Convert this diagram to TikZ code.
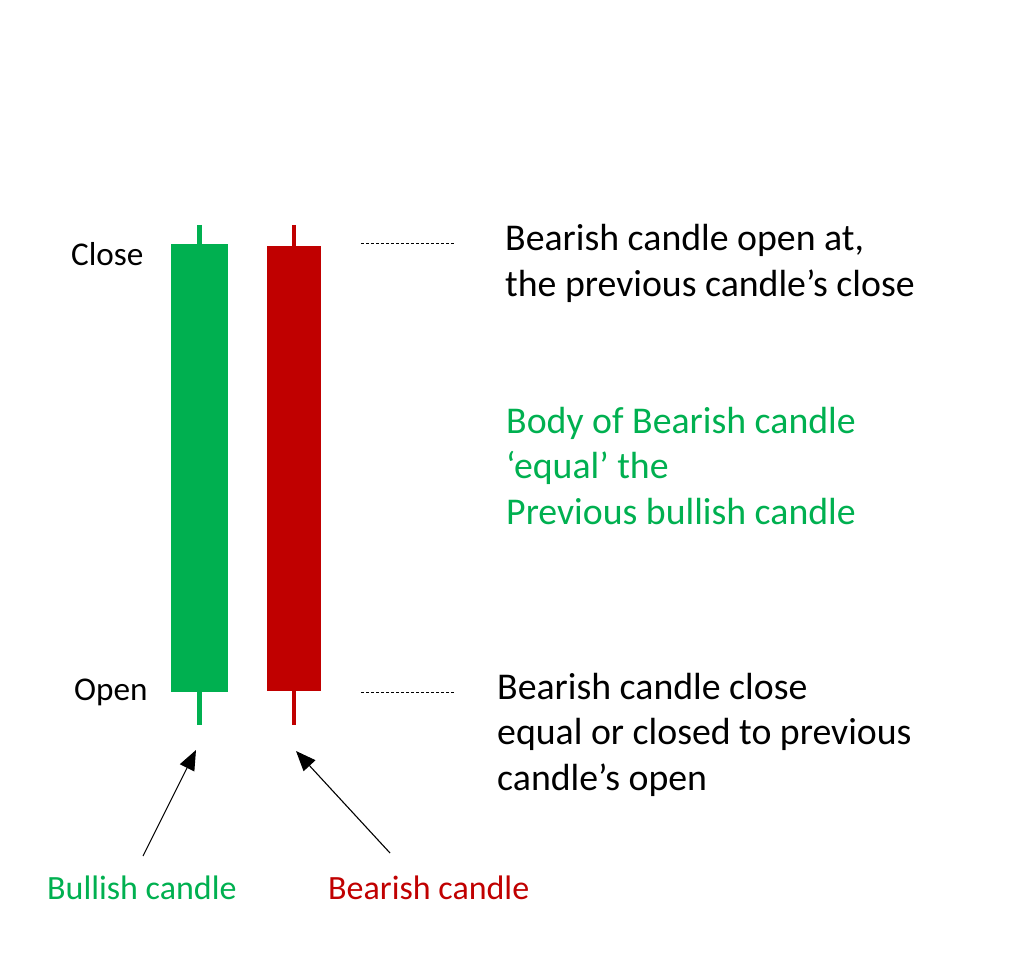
\documentclass[tikz,border=0pt]{standalone}
\usepackage{fontspec}
\setmainfont{Carlito}
\usetikzlibrary{arrows.meta}
\definecolor{bullgreen}{RGB}{0,176,80}
\definecolor{bearred}{RGB}{192,0,0}
\tikzset{
    candlebody/.style={fill=#1, draw=none, inner sep=0pt},
    wick/.style={draw=#1, line width=4.5pt},
    textline/.style={inner sep=0pt, anchor=base west, align=left},
    levellabel/.style={textline, font=\fontsize{33.2}{40}\selectfont},
    notetext/.style={textline, font=\fontsize{37.8}{45.5}\selectfont},
    candlename/.style={textline, font=\fontsize{34}{40}\selectfont},
    level/.style={draw=black, line width=0.9pt, dash pattern=on 3pt off 2pt},
    pointer/.style={draw=black, line width=1.1pt, -{Triangle[length=20pt,width=16pt]}}
}
\begin{document}
\begin{tikzpicture}[x=1pt, y=-1pt]
    \useasboundingbox (0,0) rectangle (1024,965);
    % candles
    \draw [wick=bullgreen] (199.5,225) -- (199.5,725);
    \draw [wick=bearred] (294,225) -- (294,725);
    \node (bullbody) [candlebody=bullgreen, minimum width=57pt, minimum height=448pt] at (199.5,468) {};
    \node (bearbody) [candlebody=bearred, minimum width=54pt, minimum height=445pt] at (294,468.5) {};
    % levels
    \node (close) [levellabel] at (71,266) {Close};
    \node (open) [levellabel] at (74,700) {Open};
    \coordinate (closeL) at (361,243);
    \coordinate (closeR) at (455,243);
    \coordinate (openL) at (361,692);
    \coordinate (openR) at (455,692);
    \draw [level] (closeL) -- (closeR);
    \draw [level] (openL) -- (openR);
    % notes (anchored at the last line)
    \node (opennote) [notetext] at (505,296) {Bearish candle open at,\\the previous candle’s close};
    \node (bodynote) [notetext, text=bullgreen] at (506,524) {Body of Bearish candle\\‘equal’ the\\Previous bullish candle};
    \node (closenote) [notetext] at (497,790) {Bearish candle close\\equal or closed to previous\\candle’s open};
    % names
    \node (bullname) [candlename, text=bullgreen] at (47,899) {Bullish candle};
    \node (bearname) [candlename, text=bearred] at (328,899) {Bearish candle};
    \coordinate (bulltail) at (143,856);
    \coordinate (bulltip) at (196,750);
    \coordinate (beartail) at (390,853);
    \coordinate (beartip) at (296,751);
    \draw [pointer] (bulltail) -- (bulltip);
    \draw [pointer] (beartail) -- (beartip);
\end{tikzpicture}
\end{document}
